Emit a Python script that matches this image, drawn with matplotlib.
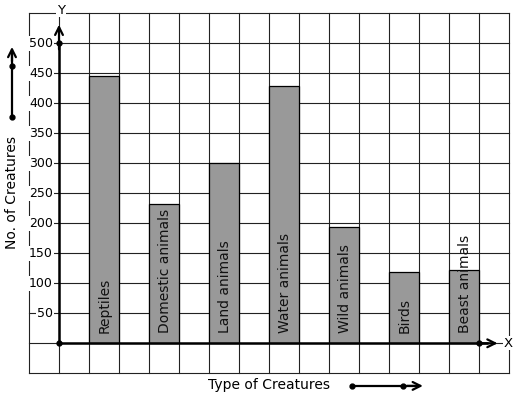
import matplotlib
matplotlib.use("Agg")
import matplotlib.pyplot as plt

categories = ["Reptiles", "Domestic animals", "Land animals", "Water animals",
              "Wild animals", "Birds", "Beast animals"]
values = [446, 232, 301, 429, 194, 119, 123]
tick_values = [50, 100, 150, 200, 250, 300, 350, 400, 450, 500]
tick_labels = ["50", "100", "150", "200", "250", "300", "350", "400", "450", "500"]
positions = [1.5, 3.5, 5.5, 7.5, 9.5, 11.5, 13.5]

W, H = 517, 399
fig = plt.figure(figsize=(W / 100, H / 100), dpi=100)
ax = fig.add_axes([0, 0, 1, 1])
ax.set_xlim(-59 / 30, (W - 59) / 30)
ax.set_ylim((343.3 - H) / 0.6, 343.3 / 0.6)
ax.axis("off")

grid_c = "#222222"
# grid
for gx in range(-1, 16):
    ax.plot([gx, gx], [-50, 550], color=grid_c, lw=0.8, zorder=1)
for gy in range(-50, 551, 50):
    ax.plot([-1, 15], [gy, gy], color=grid_c, lw=0.8, zorder=1)

# bars
ax.bar(positions, values, width=1.0, color="#999999", edgecolor="black",
       linewidth=0.9, zorder=2)

# bar labels
for p, c in zip(positions, categories):
    ax.text(p + 0.02, 17, c, rotation=90, ha="center", va="bottom",
            fontsize=10, color="#111111", zorder=5)

# axes with arrows
ax.plot([0, 14.3], [0, 0], color="black", lw=1.8, zorder=4, solid_capstyle="butt")
ax.annotate("", xy=(14.62, 0), xytext=(14.0, 0),
            arrowprops=dict(arrowstyle="->", lw=1.6, color="black",
                            mutation_scale=14, shrinkA=0, shrinkB=0), zorder=4)
ax.plot([0, 0], [0, 500], color="black", lw=1.8, zorder=4)
ax.annotate("", xy=(0, 531), xytext=(0, 490),
            arrowprops=dict(arrowstyle="->", lw=1.6, color="black",
                            mutation_scale=14, shrinkA=0, shrinkB=0), zorder=4)
ax.plot([0, 0, 14], [0, 500, 0], "o", color="black", ms=3.5, zorder=5)

ax.text(0.07, 555, "Y", ha="center", va="center", fontsize=9.5,
        bbox=dict(facecolor="white", edgecolor="none", pad=0.5), zorder=5)
ax.text(14.98, 0, "X", ha="center", va="center", fontsize=9.5,
        bbox=dict(facecolor="white", edgecolor="none", pad=0.5), zorder=5)

# tick labels
for tv, tl in zip(tick_values, tick_labels):
    ax.text(-0.2, tv, tl, ha="right", va="center", fontsize=9,
            bbox=dict(facecolor="white", edgecolor="none", pad=0.6), zorder=5)

# y label with arrow
ax.text(-1.567, 252, "No. of Creatures", rotation=90, ha="center", va="center",
        fontsize=10)
ax.plot([-1.567, -1.567], [377, 485], color="black", lw=1.6)
ax.annotate("", xy=(-1.567, 494), xytext=(-1.567, 470),
            arrowprops=dict(arrowstyle="->", lw=1.6, color="black",
                            mutation_scale=14, shrinkA=0, shrinkB=0))
ax.plot([-1.567, -1.567], [377, 462], "o", color="black", ms=3.5)

# x label with arrow
ax.text(7.0, -70, "Type of Creatures", ha="center", va="center", fontsize=10)
ax.plot([9.77, 11.9], [-71, -71], color="black", lw=1.6)
ax.annotate("", xy=(12.13, -71), xytext=(11.6, -71),
            arrowprops=dict(arrowstyle="->", lw=1.6, color="black",
                            mutation_scale=14, shrinkA=0, shrinkB=0))
ax.plot([9.77, 11.47], [-71, -71], "o", color="black", ms=3.5)

fig.savefig("out.png", dpi=100)
